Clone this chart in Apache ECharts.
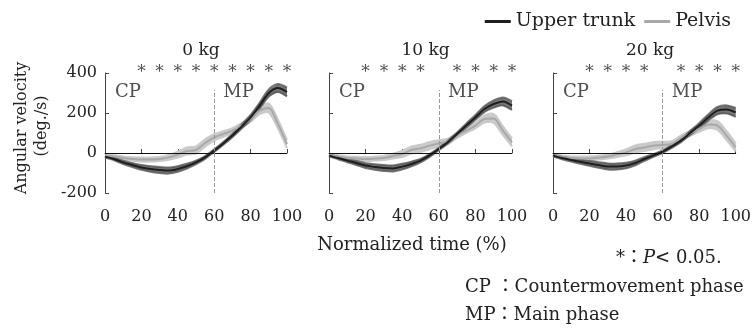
<!DOCTYPE html>
<html>
<head>
<meta charset="utf-8">
<script src="https://cdn.jsdelivr.net/npm/echarts@6/dist/echarts.min.js"></script>
<style>
  html, body { margin: 0; padding: 0; background: #fff; }
  #chart { width: 754px; height: 332px; }
</style>
</head>
<body>
<div id="chart"></div>
<script>
// normalized time (%)
const xs = [0, 5, 10, 15, 20, 25, 30, 35, 40, 45, 50, 55, 60, 65, 70, 75, 80, 85, 90, 95, 100];

// mean angular velocity (deg./s)
const upper0kg = [-18, -30, -47, -60, -72, -80, -85, -88, -80, -66, -47, -22, 12, 48, 87, 132, 178, 237, 300, 325, 305];
const pelvis0kg = [-13, -18, -25, -30, -33, -33, -30, -22, -8, 10, 15, 50, 78, 95, 112, 137, 170, 212, 225, 145, 45];
const upper10kg = [-13, -25, -38, -50, -63, -70, -75, -77, -68, -55, -38, -12, 20, 55, 95, 137, 178, 220, 245, 258, 237];
const pelvis10kg = [-10, -18, -25, -28, -30, -28, -25, -15, -5, 15, 23, 37, 48, 58, 87, 112, 137, 170, 172, 112, 53];
const upper20kg = [-13, -25, -35, -44, -52, -60, -67, -68, -63, -50, -30, -12, 7, 33, 62, 100, 137, 178, 212, 218, 203];
const pelvis20kg = [-13, -19, -25, -27, -27, -23, -18, -8, 3, 20, 28, 37, 40, 45, 75, 98, 120, 142, 137, 87, 28];

// half width of the shaded bands
const sdUpper = [5, 6, 8, 10, 12, 14, 15, 15, 14, 12, 9, 7, 6, 7, 8, 10, 12, 15, 18, 20, 22];
const sdPelvis = [6, 7, 8, 9, 10, 10, 10, 12, 15, 18, 18, 18, 16, 14, 12, 12, 14, 18, 22, 22, 20];

// significant time points (*)
const stars0kg = [20, 30, 40, 50, 60, 70, 80, 90, 100];
const stars10kg = [20, 30, 40, 50, 70, 80, 90, 100];
const stars20kg = [20, 30, 40, 50, 70, 80, 90, 100];

const panelTitles = ["0 kg", "10 kg", "20 kg"];
const phaseLabels = [["CP", 5.5, 303], ["MP", 65, 303]];
const phaseBoundary = 60;

const panels = [
  { title: panelTitles[0], upper: upper0kg, pelvis: pelvis0kg, stars: stars0kg },
  { title: panelTitles[1], upper: upper10kg, pelvis: pelvis10kg, stars: stars10kg },
  { title: panelTitles[2], upper: upper20kg, pelvis: pelvis20kg, stars: stars20kg },
];

const FONT = "'DejaVu Serif', 'Noto Sans CJK JP', serif";
const grids = [
  { left: 105, top: 73, width: 182, height: 120 },
  { left: 329, top: 73, width: 183, height: 120 },
  { left: 553, top: 73, width: 184, height: 120 },
];

const chart = echarts.init(document.getElementById("chart"));

const xAxes = [];
const yAxes = [];
const series = [];
const titles = [];

// shaded mean ± band: upper and lower edges as smooth polylines, filled between
function bandSeries(i, vals, sd, color) {
  const rows = xs.map((x, k) => [x, vals[k] - sd[k], vals[k] + sd[k]]);
  return {
    type: "custom",
    xAxisIndex: i,
    yAxisIndex: i,
    silent: true,
    data: rows,
    renderItem: function (params, api) {
      if (params.dataIndex !== 0) return;
      const top = rows.map((r) => api.coord([r[0], r[2]]));
      const bottom = rows.map((r) => api.coord([r[0], r[1]]));
      return {
        type: "group",
        children: [
          {
            type: "polygon",
            shape: { points: top.concat(bottom.slice().reverse()) },
            style: { fill: color },
          },
          {
            type: "polyline",
            shape: { points: top, smooth: 0.3 },
            style: { stroke: color, lineWidth: 2, fill: null },
          },
          {
            type: "polyline",
            shape: { points: bottom, smooth: 0.3 },
            style: { stroke: color, lineWidth: 2, fill: null },
          },
        ],
      };
    },
  };
}

panels.forEach((p, i) => {
  const g = grids[i];
  titles.push({
    text: p.title,
    left: g.left + g.width / 2,
    top: 37,
    textAlign: "center",
    textStyle: { fontFamily: FONT, fontSize: 17, fontWeight: "normal", color: "#222" },
  });
  xAxes.push({
    type: "value",
    gridIndex: i,
    min: 0,
    max: 100,
    interval: 20,
    axisLine: { lineStyle: { color: "#444", width: 1 } },
    axisTick: { inside: true, length: 4, lineStyle: { color: "#444" } },
    axisLabel: { margin: 16, fontFamily: FONT, fontSize: 16, color: "#222" },
    splitLine: { show: false },
  });
  yAxes.push({
    type: "value",
    gridIndex: i,
    min: -200,
    max: 400,
    interval: 200,
    axisLine: { show: true, lineStyle: { color: "#444", width: 1 } },
    axisTick: { show: true, inside: true, length: 4, lineStyle: { color: "#444" } },
    axisLabel: { show: i === 0, margin: 8, fontFamily: FONT, fontSize: 16, color: "#222" },
    splitLine: { show: false },
  });

  series.push(bandSeries(i, p.pelvis, sdPelvis, "#cacaca"));
  series.push(bandSeries(i, p.upper, sdUpper, "rgba(85,85,85,0.8)"));

  series.push({
    name: "Pelvis",
    type: "line",
    xAxisIndex: i,
    yAxisIndex: i,
    symbol: "none",
    smooth: 0.3,
    lineStyle: { color: "#a8a8a8", width: 2 },
    itemStyle: { color: "#a8a8a8" },
    data: xs.map((x, k) => [x, p.pelvis[k]]),
  });
  series.push({
    name: "Upper trunk",
    type: "line",
    xAxisIndex: i,
    yAxisIndex: i,
    symbol: "none",
    smooth: 0.3,
    lineStyle: { color: "#1e1e1e", width: 2 },
    itemStyle: { color: "#1e1e1e" },
    data: xs.map((x, k) => [x, p.upper[k]]),
    markLine: {
      silent: true,
      symbol: ["none", "none"],
      label: { show: false },
      data: [
        { yAxis: 0, lineStyle: { type: "solid", color: "#111", width: 1 } },
        [
          { coord: [phaseBoundary, -200], lineStyle: { type: "dashed", color: "#999", width: 1 } },
          { coord: [phaseBoundary, 315] },
        ],
      ],
    },
  });

  // asterisks
  series.push({
    type: "scatter",
    xAxisIndex: i,
    yAxisIndex: i,
    symbolSize: 0,
    clip: false,
    silent: true,
    label: {
      show: true,
      position: "inside",
      formatter: "*",
      offset: [0, 0],
      fontFamily: FONT,
      fontSize: 17,
      color: "#222",
    },
    data: p.stars.map((x) => [x, 400]),
  });

  // phase labels
  series.push({
    type: "scatter",
    xAxisIndex: i,
    yAxisIndex: i,
    symbolSize: 0,
    clip: false,
    silent: true,
    label: {
      show: true,
      position: [0, 0],
      align: "left",
      verticalAlign: "middle",
      formatter: (prm) => prm.data[2],
      fontFamily: FONT,
      fontSize: 18,
      color: "#222",
    },
    data: phaseLabels.map((d) => [d[1], d[2], d[0]]),
  });
});

const option = {
  animation: false,
  backgroundColor: "#fff",
  title: titles,
  legend: {
    data: ["Upper trunk", "Pelvis"],
    right: 18,
    top: 7,
    icon: "rect",
    itemWidth: 26,
    itemHeight: 3,
    itemGap: 9,
    textStyle: { fontFamily: FONT, fontSize: 19, color: "#222" },
  },
  grid: grids,
  xAxis: xAxes,
  yAxis: yAxes,
  series: series,
  graphic: [
    {
      type: "text",
      x: 22,
      y: 128,
      rotation: Math.PI / 2,
      style: { text: "Angular velocity", font: "16px " + FONT, fill: "#222", textAlign: "center", textVerticalAlign: "middle" },
    },
    {
      type: "text",
      x: 42,
      y: 126,
      rotation: Math.PI / 2,
      style: { text: "(deg./s)", font: "16px " + FONT, fill: "#222", textAlign: "center", textVerticalAlign: "middle" },
    },
    {
      type: "text",
      x: 412,
      y: 245,
      style: { text: "Normalized time (%)", font: "18px " + FONT, fill: "#222", textAlign: "center", textVerticalAlign: "middle" },
    },
    {
      type: "text",
      x: 616,
      y: 258,
      style: {
        text: "*：{i|P}< 0.05.",
        font: "18px " + FONT,
        fill: "#222",
        textVerticalAlign: "middle",
        rich: { i: { fontStyle: "italic", fontFamily: FONT, fontSize: 18 } },
      },
    },
    {
      type: "text",
      x: 465,
      y: 287,
      style: { text: "CP ：Countermovement phase", font: "18px " + FONT, fill: "#222", textVerticalAlign: "middle" },
    },
    {
      type: "text",
      x: 465,
      y: 315,
      style: { text: "MP：Main phase", font: "18px " + FONT, fill: "#222", textVerticalAlign: "middle" },
    },
  ],
};

chart.setOption(option);
</script>
</body>
</html>
